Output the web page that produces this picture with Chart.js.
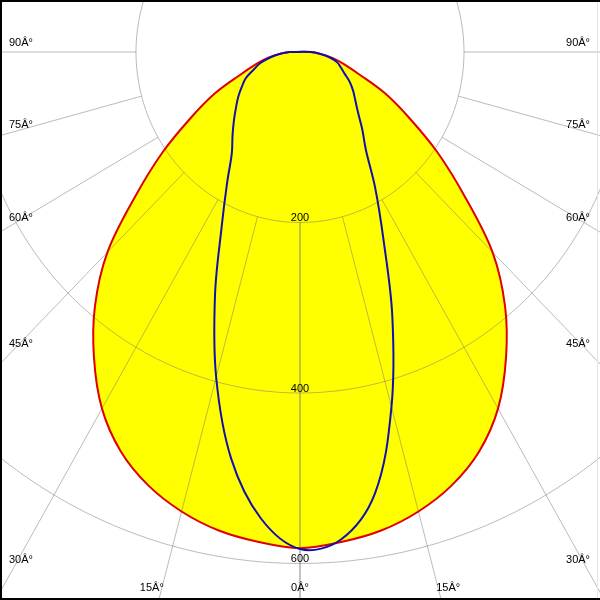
<!DOCTYPE html>
<html>
<head>
<meta charset="utf-8">
<script src="https://cdn.jsdelivr.net/npm/chart.js@4.4.0/dist/chart.umd.min.js"></script>
<style>
  html, body { margin: 0; padding: 0; background: #fff; }
</style>
</head>
<body>
<canvas id="ldc" width="600" height="600"></canvas>
<script>
// gamma angles (deg) and intensities per C-plane
const gamma = [0, 5, 10, 15, 20, 25, 30, 35, 40, 45, 50, 55, 60, 65, 70, 75, 80, 85, 90]
const c180 = [582, 577, 570, 558, 541, 517, 483, 438, 389, 332, 261, 204, 153, 114, 77, 56, 40, 25, 13]
const c0   = [582, 577, 570, 558, 541, 517, 483, 438, 389, 332, 261, 204, 153, 114, 77, 56, 40, 25, 13]
const c270 = [583, 549, 484, 395, 303, 226, 178, 145, 128, 114, 102, 92, 82, 73, 60, 50, 37, 24, 13]
const c90  = [583, 574, 526, 431, 329, 240, 183, 140, 118, 100, 88, 79, 70, 60, 53, 47, 37, 24, 13]

const rings = [200, 400, 600]
const spokes = [0, 15, 30, 45, 60, 75, 90]
const spokeLabels = ['0Â°', '15Â°', '30Â°', '45Â°', '60Â°', '75Â°', '90Â°']

const rad = d => d * Math.PI / 180

// left half from 90 down to 0, then right half back up to 90, then closed
function outline(left, right) {
    const pts = []
    for (let i = gamma.length - 1; i >= 0; i--)
        pts.push({ x: -left[i] * Math.sin(rad(gamma[i])), y: -left[i] * Math.cos(rad(gamma[i])) })
    for (let i = 1; i < gamma.length; i++)
        pts.push({ x: right[i] * Math.sin(rad(gamma[i])), y: -right[i] * Math.cos(rad(gamma[i])) })
    pts.push({ ...pts[0] })
    return pts
}

const redPts = outline(c180, c0)
const bluePts = outline(c270, c90)

const FONT = "11px 'Liberation Sans', Arial, sans-serif"

const polarGrid = {
    id: 'polarGrid',
    afterDatasetDraw(chart, args) {
        if (args.index !== 0) return
        const ctx = chart.ctx
        const sx = chart.scales.x, sy = chart.scales.y
        const P = (r, a, side) => [sx.getPixelForValue(side * r * Math.sin(rad(a))), sy.getPixelForValue(-r * Math.cos(rad(a)))]
        ctx.save()
        ctx.strokeStyle = 'rgba(120,120,120,0.5)'
        ctx.lineWidth = 1
        rings.forEach(r => {
            ctx.beginPath()
            for (let a = 0; a <= 360; a += 2) {
                const p = P(r, a, 1)
                a === 0 ? ctx.moveTo(p[0], p[1]) : ctx.lineTo(p[0], p[1])
            }
            ctx.stroke()
        })
        spokes.forEach(a => {
            [-1, 1].forEach(side => {
                const p1 = P(rings[0], a, side), p2 = P(1500, a, side)
                ctx.beginPath()
                ctx.moveTo(p1[0], p1[1])
                ctx.lineTo(p2[0], p2[1])
                ctx.stroke()
            })
        })
        ctx.restore()
    },
    afterDatasetsDraw(chart) {
        const ctx = chart.ctx
        const sx = chart.scales.x, sy = chart.scales.y
        const cx = sx.getPixelForValue(0), cy = sy.getPixelForValue(0)
        const W = chart.width, H = chart.height
        ctx.save()
        ctx.font = FONT
        ctx.fillStyle = '#000'
        // ring values on the 0 deg axis
        ctx.textAlign = 'center'
        ctx.textBaseline = 'alphabetic'
        rings.forEach(r => ctx.fillText(String(r), cx, sy.getPixelForValue(-r) - 1.5))
        // angle labels along the frame
        ctx.textBaseline = 'middle'
        spokes.forEach((a, i) => {
            const dx = sx.getPixelForValue(Math.sin(rad(a))) - cx
            const dy = sy.getPixelForValue(-Math.cos(rad(a))) - cy
            const txt = spokeLabels[i]
            if (a >= 30) {
                const y = cy + (cx - 21) / dx * dy - 9 + (90 - a) * 0.25
                ctx.textAlign = 'left'
                ctx.fillText(txt, 9, y)
                ctx.textAlign = 'right'
                ctx.fillText(txt, W - 10, y)
            } else {
                const yb = H - 12
                const off = (yb - cy) / dy * dx
                ctx.textAlign = 'center'
                if (a === 0) ctx.fillText(txt, cx, yb)
                else {
                    ctx.fillText(txt, cx - off - 10, yb)
                    ctx.fillText(txt, cx + off + 10, yb)
                }
            }
        })
        ctx.restore()
    },
    afterDraw(chart) {
        const ctx = chart.ctx
        const W = chart.width, H = chart.height
        ctx.save()
        ctx.fillStyle = '#000'
        ctx.fillRect(0, 0, W, 2)
        ctx.fillRect(0, 0, 2, H)
        ctx.fillRect(0, H - 2, W, 2)
        ctx.fillStyle = '#e4e4e4'
        ctx.fillRect(W - 3, 2, 1, H - 4)
        ctx.restore()
    }
}

const ctx = document.getElementById('ldc').getContext('2d')
new Chart(ctx, {
    type: 'scatter',
    data: {
        datasets: [{
            data: redPts,
            showLine: true,
            fill: 'shape',
            backgroundColor: '#ffff00',
            borderWidth: 0,
            borderColor: 'transparent',
            tension: 0.35,
            pointRadius: 0,
            order: 3
        }, {
            data: redPts,
            showLine: true,
            borderColor: '#e00000',
            borderWidth: 2,
            tension: 0.35,
            pointRadius: 0,
            order: 2
        }, {
            data: bluePts,
            showLine: true,
            borderColor: '#1010b0',
            borderWidth: 2,
            tension: 0.35,
            pointRadius: 0,
            order: 1
        }]
    },
    options: {
        responsive: false,
        animation: false,
        devicePixelRatio: 1,
        layout: { padding: 0 },
        scales: {
            x: { type: 'linear', min: -365.85, max: 365.85, display: false },
            y: { type: 'linear', min: -642.8, max: 61, display: false }
        },
        plugins: {
            legend: { display: false },
            tooltip: { enabled: false }
        }
    },
    plugins: [polarGrid]
})
</script>
</body>
</html>
